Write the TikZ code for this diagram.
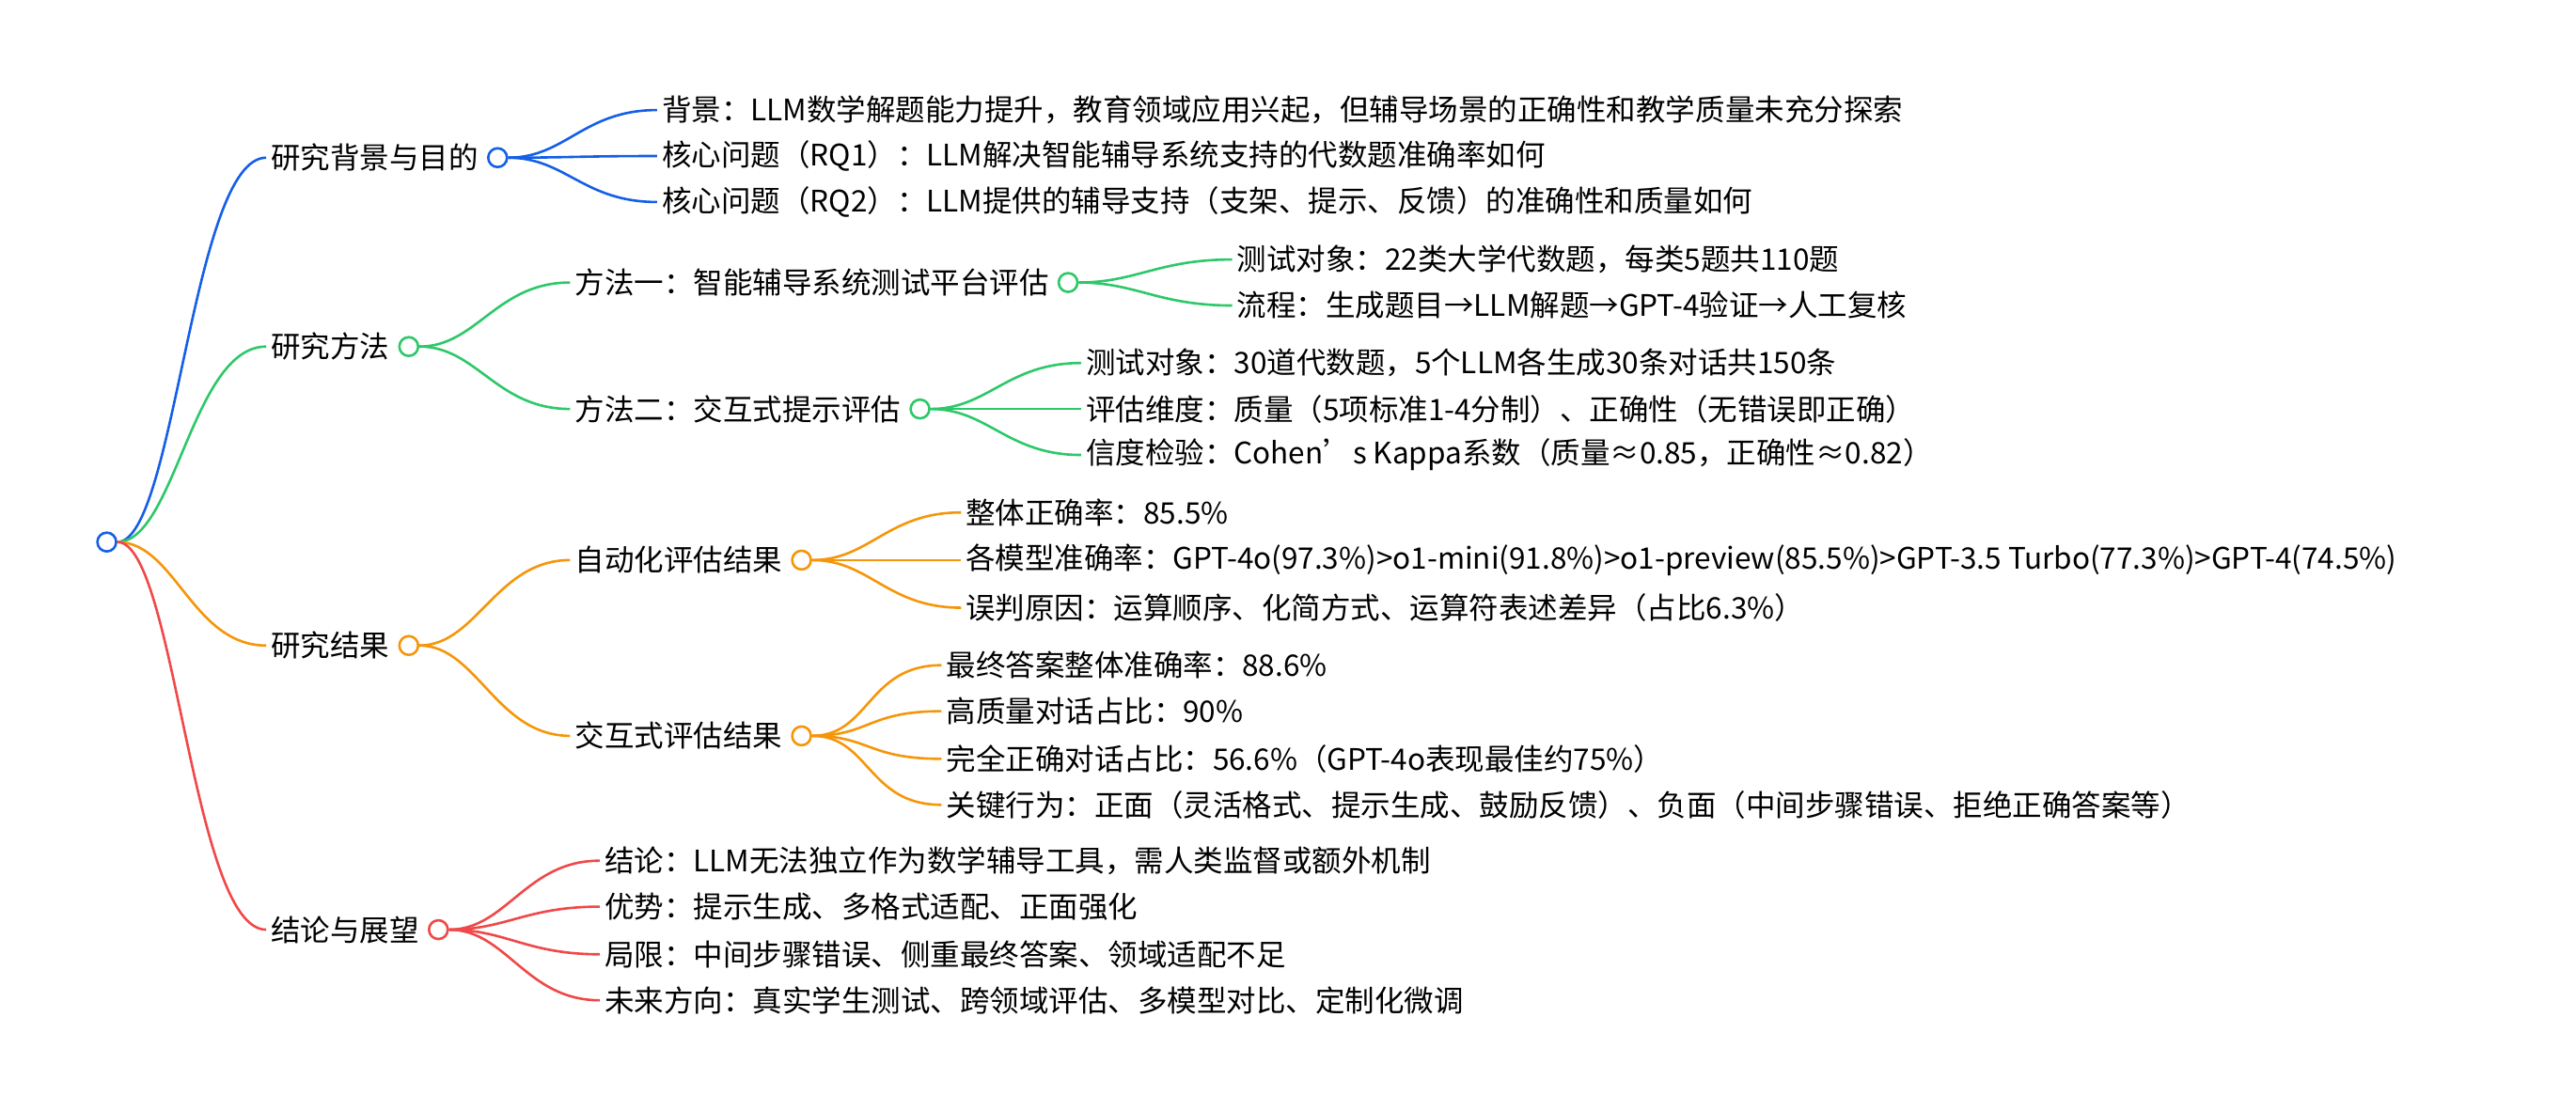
\documentclass[tikz,border=0pt]{standalone}
\usepackage{fontspec}
\usetikzlibrary{positioning}
\setmainfont{Noto Sans CJK SC}
\definecolor{cb}{RGB}{20,95,230}
\definecolor{cg}{RGB}{45,200,105}
\definecolor{co}{RGB}{245,150,10}
\definecolor{cr}{RGB}{240,72,72}
\tikzset{
 t/.style={anchor=west,inner xsep=5pt,inner ysep=0pt,font=\fontsize{31.5}{36}\selectfont},
 dot/.style={circle,draw=#1,fill=white,line width=2.6pt,minimum size=20pt,inner sep=0pt},
 ln/.style={draw=#1,line width=2.6pt},
}
\newcommand{\con}[3]{\draw[ln=#3] (#1.east) .. controls +(35,0) and +(-45,0) .. (#2.west);}
\begin{document}
\begin{tikzpicture}[x=1.7474pt,y=-1.7474pt]
\useasboundingbox (0,0) rectangle (1568,676.4);
\node[dot=cb] (r) at (65,330) {};
% level 1
\node[t] (a) at (162,96) {研究背景与目的};
\node[dot=cb,right=4pt of a.east,anchor=west] (ad) {};
\node[t] (b) at (162,211) {研究方法};
\node[dot=cg,right=4pt of b.east,anchor=west] (bd) {};
\node[t] (c) at (162,393) {研究结果};
\node[dot=co,right=4pt of c.east,anchor=west] (cd) {};
\node[t] (d) at (162,566) {结论与展望};
\node[dot=cr,right=4pt of d.east,anchor=west] (dd) {};
\con{r}{a}{cb}\con{r}{b}{cg}\con{r}{c}{co}\con{r}{d}{cr}
% a children
\node[t] (a1) at (400,67) {背景：LLM数学解题能力提升，教育领域应用兴起，但辅导场景的正确性和教学质量未充分探索};
\node[t] (a2) at (400,95) {核心问题（RQ1）：LLM解决智能辅导系统支持的代数题准确率如何};
\node[t] (a3) at (400,123) {核心问题（RQ2）：LLM提供的辅导支持（支架、提示、反馈）的准确性和质量如何};
\con{ad}{a1}{cb}\con{ad}{a2}{cb}\con{ad}{a3}{cb}
% b children
\node[t] (b1) at (347,172) {方法一：智能辅导系统测试平台评估};
\node[dot=cg,right=4pt of b1.east,anchor=west] (b1d) {};
\node[t] (b2) at (347,249) {方法二：交互式提示评估};
\node[dot=cg,right=4pt of b2.east,anchor=west] (b2d) {};
\con{bd}{b1}{cg}\con{bd}{b2}{cg}
\node[t] (b11) at (750,158) {测试对象：22类大学代数题，每类5题共110题};
\node[t] (b12) at (750,186) {流程：生成题目→LLM解题→GPT-4验证→人工复核};
\con{b1d}{b11}{cg}\con{b1d}{b12}{cg}
\node[t] (b21) at (658,221) {测试对象：30道代数题，5个LLM各生成30条对话共150条};
\node[t] (b22) at (658,249) {评估维度：质量（5项标准1-4分制）、正确性（无错误即正确）};
\node[t] (b23) at (658,277) {信度检验：Cohen’s Kappa系数（质量≈0.85，正确性≈0.82）};
\con{b2d}{b21}{cg}\con{b2d}{b22}{cg}\con{b2d}{b23}{cg}
% c children
\node[t] (c1) at (347,341) {自动化评估结果};
\node[dot=co,right=4pt of c1.east,anchor=west] (c1d) {};
\node[t] (c2) at (347,448) {交互式评估结果};
\node[dot=co,right=4pt of c2.east,anchor=west] (c2d) {};
\con{cd}{c1}{co}\con{cd}{c2}{co}
\node[t] (c11) at (585,312) {整体正确率：85.5\%};
\node[t] (c12) at (585,341) {各模型准确率：GPT-4o(97.3\%)>o1-mini(91.8\%)>o1-preview(85.5\%)>GPT-3.5 Turbo(77.3\%)>GPT-4(74.5\%)};
\node[t] (c13) at (585,370) {误判原因：运算顺序、化简方式、运算符表述差异（占比6.3\%）};
\con{c1d}{c11}{co}\con{c1d}{c12}{co}\con{c1d}{c13}{co}
\node[t] (c21) at (573,405) {最终答案整体准确率：88.6\%};
\node[t] (c22) at (573,433) {高质量对话占比：90\%};
\node[t] (c23) at (573,462) {完全正确对话占比：56.6\%（GPT-4o表现最佳约75\%）};
\node[t] (c24) at (573,490) {关键行为：正面（灵活格式、提示生成、鼓励反馈）、负面（中间步骤错误、拒绝正确答案等）};
\con{c2d}{c21}{co}\con{c2d}{c22}{co}\con{c2d}{c23}{co}\con{c2d}{c24}{co}
% d children
\node[t] (d1) at (365,524) {结论：LLM无法独立作为数学辅导工具，需人类监督或额外机制};
\node[t] (d2) at (365,552) {优势：提示生成、多格式适配、正面强化};
\node[t] (d3) at (365,581) {局限：中间步骤错误、侧重最终答案、领域适配不足};
\node[t] (d4) at (365,609) {未来方向：真实学生测试、跨领域评估、多模型对比、定制化微调};
\con{dd}{d1}{cr}\con{dd}{d2}{cr}\con{dd}{d3}{cr}\con{dd}{d4}{cr}
\end{tikzpicture}
\end{document}
